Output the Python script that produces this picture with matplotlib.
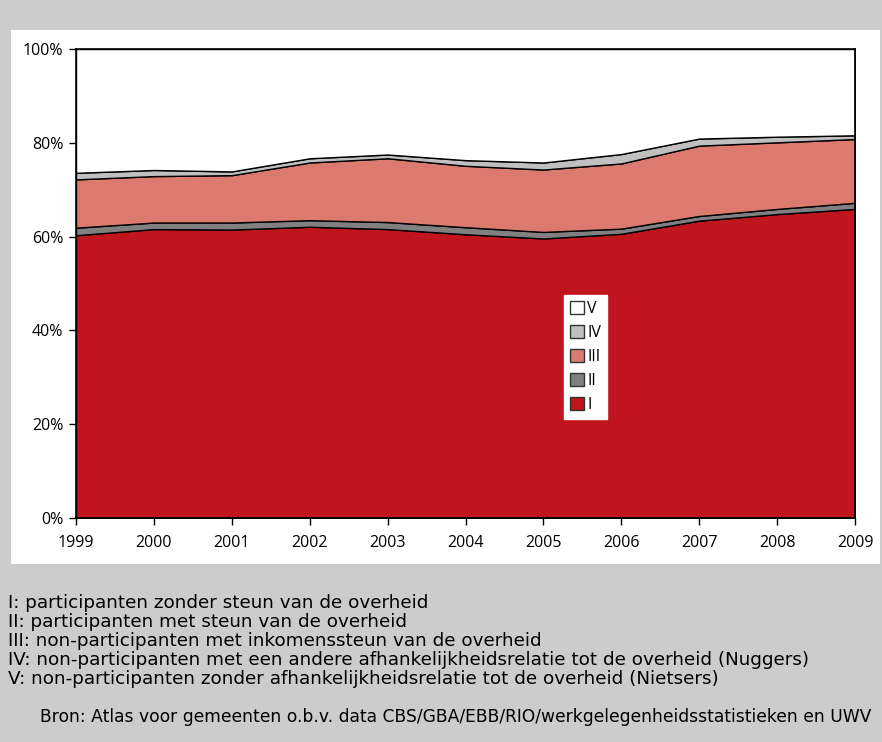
import matplotlib
matplotlib.use("Agg")
import matplotlib.pyplot as plt
from matplotlib.patches import Rectangle, Patch

years = [1999, 2000, 2001, 2002, 2003, 2004, 2005, 2006, 2007, 2008, 2009]
cat_I = [60.3, 61.6, 61.5, 62.1, 61.6, 60.5, 59.6, 60.6, 63.4, 64.8, 65.9]
cat_II = [1.6, 1.4, 1.5, 1.4, 1.5, 1.5, 1.4, 1.1, 1.0, 1.1, 1.3]
cat_III = [10.3, 9.9, 10.1, 12.3, 13.6, 13.1, 13.3, 13.9, 15.0, 14.2, 13.6]
cat_IV = [1.4, 1.3, 0.8, 0.9, 0.8, 1.2, 1.5, 2.0, 1.5, 1.2, 0.8]
cat_V = [100 - a - b - c - d for a, b, c, d in zip(cat_I, cat_II, cat_III, cat_IV)]

labels = ["I", "II", "III", "IV", "V"]
colors = ["#C0141E", "#808080", "#DC7A70", "#C0C0C0", "#FFFFFF"]

footnotes = [
    "I: participanten zonder steun van de overheid",
    "II: participanten met steun van de overheid",
    "III: non-participanten met inkomenssteun van de overheid",
    "IV: non-participanten met een andere afhankelijkheidsrelatie tot de overheid (Nuggers)",
    "V: non-participanten zonder afhankelijkheidsrelatie tot de overheid (Nietsers)",
]
source = "Bron: Atlas voor gemeenten o.b.v. data CBS/GBA/EBB/RIO/werkgelegenheidsstatistieken en UWV"

plt.rcParams['font.family'] = ['Open Sans', 'DejaVu Sans']

W, H = 882, 742
fig = plt.figure(figsize=(W / 100, H / 100), dpi=100)
fig.patch.set_facecolor("#CCCCCC")

def fx(px):
    return px / W

def fy(py):
    return 1 - py / H

fig.patches.append(Rectangle((fx(11), fy(564)), fx(869), 534 / H,
                             transform=fig.transFigure, facecolor="white",
                             edgecolor="none", zorder=-10))

ax = fig.add_axes([fx(76), fy(518), fx(855 - 76), (518 - 49) / H])
ax.set_zorder(5)
ax.set_facecolor("white")
ax.stackplot(years, cat_I, cat_II, cat_III, cat_IV, cat_V,
             colors=colors, edgecolor="black", linewidth=1.0)
ax.set_xlim(1999, 2009)
ax.set_ylim(0, 100)
ax.set_yticks([0, 20, 40, 60, 80, 100])
ax.set_yticklabels([f"{v}%" for v in [0, 20, 40, 60, 80, 100]])
ax.set_xticks(years)
ax.set_xticklabels([str(y) for y in years])
ax.tick_params(axis="both", direction="out", length=5, width=1, labelsize=11.5,
               colors="black")
ax.tick_params(axis="x", pad=7)
ax.tick_params(axis="y", pad=4)
for s in ax.spines.values():
    s.set_color("black")
    s.set_linewidth(1.2)

handles = [Patch(facecolor=c, edgecolor="#333333", linewidth=1) for c in colors]
leg = ax.legend(handles[::-1], labels[::-1], loc="upper left",
                bbox_to_anchor=((564 - 76) / (855 - 76), (518 - 295) / (518 - 49)),
                frameon=True, fancybox=False, edgecolor="white", facecolor="white",
                framealpha=1, fontsize=11.5, handlelength=0.9, handleheight=0.9,
                handletextpad=0.2, labelspacing=0.5, borderpad=0.35,
                borderaxespad=0)

for i, t in enumerate(footnotes):
    fig.text(fx(8), fy(603 + 19 * i), t, fontsize=13.2, va="center", ha="left",
             family="DejaVu Sans")
fig.text(fx(40), fy(717), source, fontsize=12.3, va="center", ha="left",
         family="DejaVu Sans")

fig.savefig("out.png", dpi=100, facecolor=fig.get_facecolor())
